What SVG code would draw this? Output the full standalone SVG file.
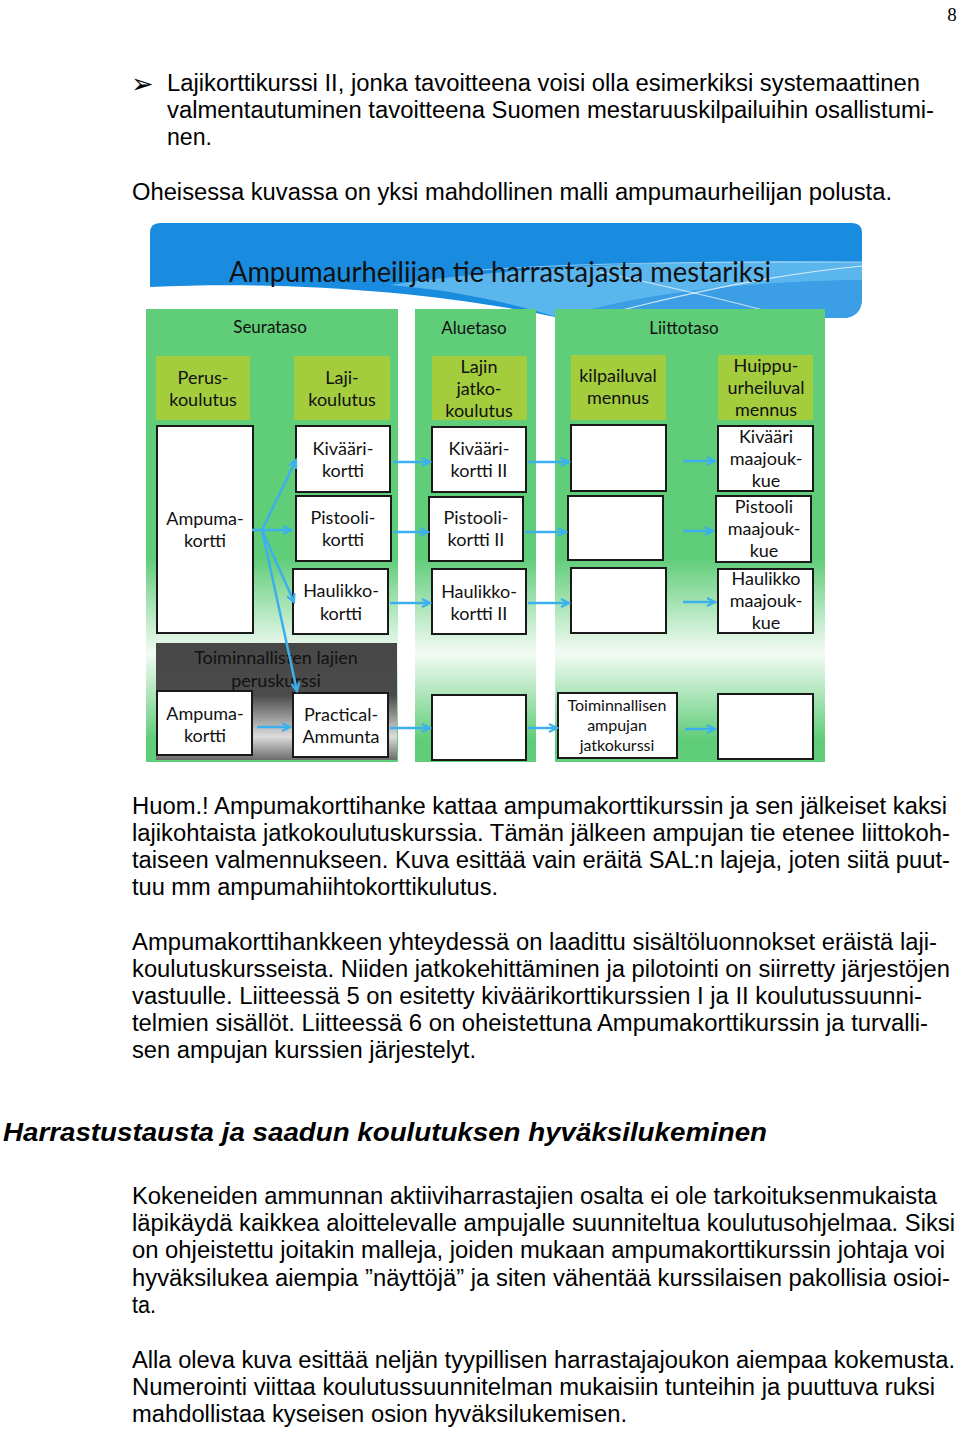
<svg xmlns="http://www.w3.org/2000/svg" width="960" height="1429" viewBox="0 0 960 1429">
<style>
.body{font-family:"Liberation Sans",Arial,sans-serif;font-size:23px;fill:#000}
.head{font-family:"Liberation Sans",Arial,sans-serif;font-size:25px;font-weight:bold;font-style:italic;fill:#000}
.lbl{font-family:Lato,"Open Sans",sans-serif;font-size:18px;fill:#111;text-anchor:middle}
.sm{font-size:16px}
.col{font-size:17px}
.box{fill:#fff;stroke:#1a1a1a;stroke-width:2}
.hdr{fill:#a4cd3e}
.arr{stroke:#3cb0ee;stroke-width:2.5;fill:none;marker-end:url(#ah)}
</style>
<defs>
<linearGradient id="pg" x1="0" y1="0" x2="0" y2="1">
<stop offset="0" stop-color="#60cd79"/>
<stop offset="0.55" stop-color="#60cd79"/>
<stop offset="0.76" stop-color="#f3fbf4"/>
<stop offset="0.95" stop-color="#60cd79"/>
<stop offset="1" stop-color="#60cd79"/>
</linearGradient>
<linearGradient id="dg" x1="0" y1="0" x2="0" y2="1">
<stop offset="0" stop-color="#474747"/>
<stop offset="0.45" stop-color="#4b4b4b"/>
<stop offset="0.8" stop-color="#dcdcdc"/>
<stop offset="1" stop-color="#6a6a6a"/>
</linearGradient>
<marker id="ah" markerUnits="userSpaceOnUse" markerWidth="12" markerHeight="12" refX="10" refY="6" orient="auto">
<path d="M2,2 L10,6 L2,10" fill="none" stroke="#3cb0ee" stroke-width="2.2"/>
</marker>
</defs>
<rect width="960" height="1429" fill="#fff"/>
<text x="952" y="21" font-family="Liberation Serif,serif" font-size="19" text-anchor="middle">8</text>

<g id="intro">
<text x="131" y="93" font-family="DejaVu Sans,sans-serif" font-size="27">➢</text>
<text class="body" x="167" y="91" textLength="753" lengthAdjust="spacingAndGlyphs">Lajikorttikurssi II, jonka tavoitteena voisi olla esimerkiksi systemaattinen</text>
<text class="body" x="167" y="118" textLength="767" lengthAdjust="spacingAndGlyphs">valmentautuminen tavoitteena Suomen mestaruuskilpailuihin osallistumi-</text>
<text class="body" x="167" y="145" textLength="45" lengthAdjust="spacingAndGlyphs">nen.</text>
<text class="body" x="132" y="200" textLength="760" lengthAdjust="spacingAndGlyphs">Oheisessa kuvassa on yksi mahdollinen malli ampumaurheilijan polusta.</text>
</g>

<g id="banner">
<path d="M150,287 L150,233 Q150,223 160,223 L852,223 Q862,223 862,233 L862,298 Q862,316 845,318 L560,318 C450,294 300,280 150,287 Z" fill="#1a8ce0"/>
<path d="M560,318 C640,292 760,281 862,280 L862,298 Q862,316 845,318 Z" fill="#3c9fe6"/>
<path d="M390,285 C500,268 680,258 862,262 L862,280 C760,281 640,292 560,318 C500,300 450,290 390,285 Z" fill="#5bb6ee"/>
<path d="M600,272 C660,285 720,298 770,312" stroke="#ffffff" stroke-opacity="0.7" stroke-width="1.1" fill="none"/>
<path d="M622,310 C700,290 780,274 862,266" stroke="#ffffff" stroke-opacity="0.75" stroke-width="1.1" fill="none"/>
<path d="M480,270 C600,262 720,262 862,262" stroke="#ffffff" stroke-opacity="0.5" stroke-width="1" fill="none"/>
<text x="500" y="282" font-family="Lato,Open Sans,sans-serif" font-size="28" fill="#111" text-anchor="middle" textLength="542" lengthAdjust="spacingAndGlyphs">Ampumaurheilijan tie harrastajasta mestariksi</text>
</g>

<g id="seurataso">
<rect x="146" y="309" width="252" height="453" fill="url(#pg)"/>
<text class="lbl col" x="270" y="333">Seurataso</text>
</g>
<g id="aluetaso">
<rect x="415" y="309" width="121" height="453" fill="url(#pg)"/>
<text class="lbl col" x="474" y="334">Aluetaso</text>
</g>
<g id="liittotaso">
<rect x="555" y="309" width="270" height="453" fill="url(#pg)"/>
<text class="lbl col" x="684" y="334">Liittotaso</text>
</g>

<g id="h-peruskoulutus"><rect class="hdr" x="156" y="356" width="94" height="64"/>
<text class="lbl" x="203" y="384">Perus-</text><text class="lbl" x="203" y="406">koulutus</text></g>
<g id="h-lajikoulutus"><rect class="hdr" x="294" y="356" width="96" height="64"/>
<text class="lbl" x="342" y="384">Laji-</text><text class="lbl" x="342" y="406">koulutus</text></g>
<g id="h-jatkokoulutus"><rect class="hdr" x="432" y="356" width="95" height="64"/>
<text class="lbl" x="479" y="373">Lajin</text><text class="lbl" x="479" y="395">jatko-</text><text class="lbl" x="479" y="417">koulutus</text></g>
<g id="h-kilpailu"><rect class="hdr" x="571" y="355" width="95" height="65"/>
<text class="lbl" x="618" y="382">kilpailuval</text><text class="lbl" x="618" y="404">mennus</text></g>
<g id="h-huippu"><rect class="hdr" x="718" y="355" width="95" height="65"/>
<text class="lbl" x="766" y="372">Huippu-</text><text class="lbl" x="766" y="394">urheiluval</text><text class="lbl" x="766" y="416">mennus</text></g>

<g id="n-ampumakortti"><rect class="box" x="157" y="426" width="96" height="207"/>
<text class="lbl" x="205" y="525">Ampuma-</text><text class="lbl" x="205" y="547">kortti</text></g>
<g id="n-kiväärikortti"><rect class="box" x="296" y="426" width="94" height="66"/>
<text class="lbl" x="343" y="455">Kivääri-</text><text class="lbl" x="343" y="477">kortti</text></g>
<g id="n-pistoolikortti"><rect class="box" x="296" y="496" width="95" height="65"/>
<text class="lbl" x="343" y="524">Pistooli-</text><text class="lbl" x="343" y="546">kortti</text></g>
<g id="n-haulikkokortti"><rect class="box" x="293" y="569" width="95" height="65"/>
<text class="lbl" x="341" y="597">Haulikko-</text><text class="lbl" x="341" y="620">kortti</text></g>

<g id="n-peruskurssi"><rect x="156" y="643" width="241" height="117" fill="url(#dg)"/>
<text class="lbl" x="276" y="664">Toiminnallisten lajien</text><text class="lbl" x="276" y="687">peruskurssi</text></g>
<g id="n-ampumakortti2"><rect class="box" x="157" y="691" width="95" height="64"/>
<text class="lbl" x="205" y="720">Ampuma-</text><text class="lbl" x="205" y="742">kortti</text></g>
<g id="n-practical"><rect class="box" x="293" y="693" width="95" height="64"/>
<text class="lbl" x="341" y="721">Practical-</text><text class="lbl" x="341" y="743">Ammunta</text></g>

<g id="n-kivaari2"><rect class="box" x="432" y="427" width="94" height="65"/>
<text class="lbl" x="479" y="455">Kivääri-</text><text class="lbl" x="479" y="477">kortti II</text></g>
<g id="n-pistooli2"><rect class="box" x="429" y="497" width="94" height="64"/>
<text class="lbl" x="476" y="524">Pistooli-</text><text class="lbl" x="476" y="546">kortti II</text></g>
<g id="n-haulikko2"><rect class="box" x="432" y="569" width="94" height="65"/>
<text class="lbl" x="479" y="598">Haulikko-</text><text class="lbl" x="479" y="620">kortti II</text></g>
<g id="n-alue-empty"><rect class="box" x="432" y="695" width="94" height="65"/></g>

<g id="n-kilpa1"><rect class="box" x="571" y="425" width="95" height="66"/></g>
<g id="n-kilpa2"><rect class="box" x="568" y="496" width="95" height="64"/></g>
<g id="n-kilpa3"><rect class="box" x="571" y="568" width="95" height="65"/></g>
<g id="n-jatkokurssi"><rect class="box" x="558" y="693" width="119" height="65"/>
<text class="lbl sm" x="617" y="711">Toiminnallisen</text><text class="lbl sm" x="617" y="731">ampujan</text><text class="lbl sm" x="617" y="751">jatkokurssi</text></g>

<g id="n-kivaari-mj"><rect class="box" x="718" y="426" width="95" height="65"/>
<text class="lbl" x="766" y="443">Kivääri</text><text class="lbl" x="766" y="465">maajouk-</text><text class="lbl" x="766" y="487">kue</text></g>
<g id="n-pistooli-mj"><rect class="box" x="716" y="496" width="95" height="66"/>
<text class="lbl" x="764" y="513">Pistooli</text><text class="lbl" x="764" y="535">maajouk-</text><text class="lbl" x="764" y="557">kue</text></g>
<g id="n-haulikko-mj"><rect class="box" x="718" y="569" width="95" height="64"/>
<text class="lbl" x="766" y="585">Haulikko</text><text class="lbl" x="766" y="607">maajouk-</text><text class="lbl" x="766" y="629">kue</text></g>
<g id="n-liitto-empty"><rect class="box" x="718" y="694" width="95" height="65"/></g>

<g id="connectors">
<path class="arr" d="M252,530 L291,530"/>
<path class="arr" d="M262,530 L296,460"/>
<path class="arr" d="M262,530 L294,602"/>
<path class="arr" d="M262,530 L297,691"/>
<path class="arr" d="M257,727 L290,727"/>
<path class="arr" d="M393,462 L430,462"/>
<path class="arr" d="M393,532 L428,532"/>
<path class="arr" d="M390,603 L430,603"/>
<path class="arr" d="M390,728 L430,728"/>
<path class="arr" d="M528,462 L569,462"/>
<path class="arr" d="M525,532 L566,532"/>
<path class="arr" d="M528,603 L569,603"/>
<path class="arr" d="M528,728 L557,728"/>
<path class="arr" d="M683,461 L715,461"/>
<path class="arr" d="M683,531 L713,531"/>
<path class="arr" d="M683,602 L715,602"/>
<path class="arr" d="M685,729 L715,729"/>
</g>

<g id="text-after">
<text class="body" x="132" y="814" textLength="815" lengthAdjust="spacingAndGlyphs">Huom.! Ampumakorttihanke kattaa ampumakorttikurssin ja sen jälkeiset kaksi</text>
<text class="body" x="132" y="841" textLength="818" lengthAdjust="spacingAndGlyphs">lajikohtaista jatkokoulutuskurssia. Tämän jälkeen ampujan tie etenee liittokoh-</text>
<text class="body" x="132" y="868" textLength="818" lengthAdjust="spacingAndGlyphs">taiseen valmennukseen. Kuva esittää vain eräitä SAL:n lajeja, joten siitä puut-</text>
<text class="body" x="132" y="895" textLength="366" lengthAdjust="spacingAndGlyphs">tuu mm ampumahiihtokorttikulutus.</text>
<text class="body" x="132" y="950" textLength="805" lengthAdjust="spacingAndGlyphs">Ampumakorttihankkeen yhteydessä on laadittu sisältöluonnokset eräistä laji-</text>
<text class="body" x="132" y="977" textLength="818" lengthAdjust="spacingAndGlyphs">koulutuskursseista. Niiden jatkokehittäminen ja pilotointi on siirretty järjestöjen</text>
<text class="body" x="132" y="1004" textLength="790" lengthAdjust="spacingAndGlyphs">vastuulle. Liitteessä 5 on esitetty kiväärikorttikurssien I ja II koulutussuunni-</text>
<text class="body" x="132" y="1031" textLength="796" lengthAdjust="spacingAndGlyphs">telmien sisällöt. Liitteessä 6 on oheistettuna Ampumakorttikurssin ja turvalli-</text>
<text class="body" x="132" y="1058" textLength="344" lengthAdjust="spacingAndGlyphs">sen ampujan kurssien järjestelyt.</text>
<text class="head" x="3" y="1141" textLength="764" lengthAdjust="spacingAndGlyphs">Harrastustausta ja saadun koulutuksen hyväksilukeminen</text>
<text class="body" x="132" y="1204" textLength="805" lengthAdjust="spacingAndGlyphs">Kokeneiden ammunnan aktiiviharrastajien osalta ei ole tarkoituksenmukaista</text>
<text class="body" x="132" y="1231" textLength="823" lengthAdjust="spacingAndGlyphs">läpikäydä kaikkea aloittelevalle ampujalle suunniteltua koulutusohjelmaa. Siksi</text>
<text class="body" x="132" y="1258" textLength="813" lengthAdjust="spacingAndGlyphs">on ohjeistettu joitakin malleja, joiden mukaan ampumakorttikurssin johtaja voi</text>
<text class="body" x="132" y="1286" textLength="818" lengthAdjust="spacingAndGlyphs">hyväksilukea aiempia ”näyttöjä” ja siten vähentää kurssilaisen pakollisia osioi-</text>
<text class="body" x="132" y="1313" textLength="24" lengthAdjust="spacingAndGlyphs">ta.</text>
<text class="body" x="132" y="1368" textLength="823" lengthAdjust="spacingAndGlyphs">Alla oleva kuva esittää neljän tyypillisen harrastajajoukon aiempaa kokemusta.</text>
<text class="body" x="132" y="1395" textLength="803" lengthAdjust="spacingAndGlyphs">Numerointi viittaa koulutussuunnitelman mukaisiin tunteihin ja puuttuva ruksi</text>
<text class="body" x="132" y="1422" textLength="495" lengthAdjust="spacingAndGlyphs">mahdollistaa kyseisen osion hyväksilukemisen.</text>
</g>
</svg>
